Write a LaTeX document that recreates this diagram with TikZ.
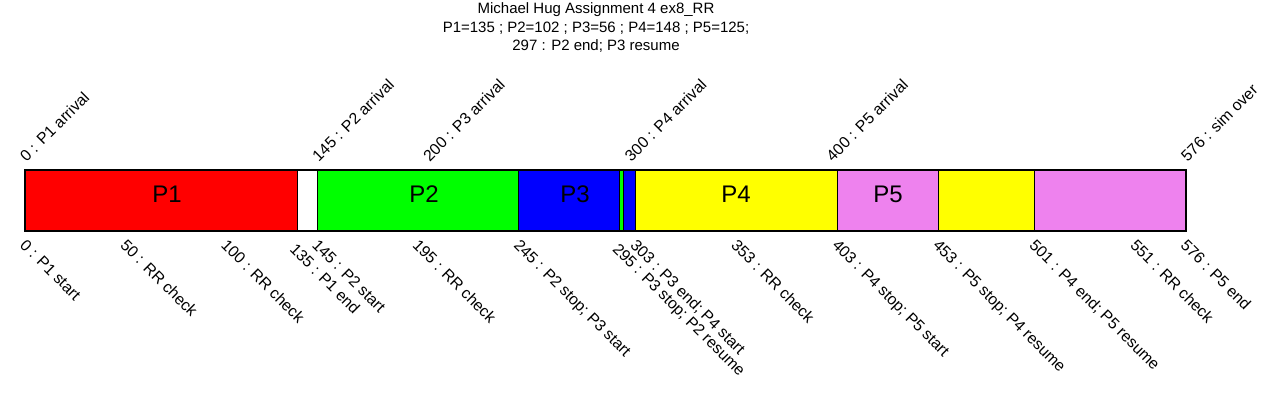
\documentclass[tikz,border=0pt]{standalone}
\usepackage{fontspec}
\setmainfont{Liberation Sans}
\definecolor{pviolet}{RGB}{238,130,238}
\definecolor{pred}{RGB}{255,0,0}
\definecolor{pgreen}{RGB}{0,255,0}
\definecolor{pblue}{RGB}{0,0,255}
\definecolor{pyellow}{RGB}{255,255,0}
\newcommand\tx[1]{(25+2.015625*#1)}
\begin{document}
\begin{tikzpicture}[x=1pt,y=-1pt,
  seg/.style={draw=black,line width=1pt},
  titletext/.style={font=\fontsize{15}{18}\selectfont,inner sep=0pt,align=center},
  toplabel/.style={font=\fontsize{15.8}{18}\selectfont,inner sep=0pt,rotate=45,anchor=base west},
  botlabel/.style={font=\fontsize{15.8}{18}\selectfont,inner sep=0pt,rotate=-45,anchor=north west},
  proclabel/.style={font=\fontsize{24}{28}\selectfont,inner sep=0pt}]
\useasboundingbox (0,0) rectangle (1280,420);
% title
\node[titletext] (t1) at (596,9.5) {Michael Hug Assignment 4 ex8\_RR};
\node[titletext] (t2) at (596,28) {P1=135 ; P2=102 ; P3=56 ; P4=148 ; P5=125;};
\node[titletext] (t3) at (596,46) {297 : P2 end; P3 resume};
% segments
\path[seg,fill=pred]    ({\tx{0}},170)   rectangle ({\tx{135}},231);
\path[seg,fill=white]   ({\tx{135}},170) rectangle ({\tx{145}},231);
\path[seg,fill=pgreen]  ({\tx{145}},170) rectangle ({\tx{245}},231);
\path[seg,fill=pblue]   ({\tx{245}},170) rectangle ({\tx{295}},231);
\path[seg,fill=pgreen]  ({\tx{295}},170) rectangle ({\tx{297}},231);
\path[seg,fill=pblue]   ({\tx{297}},170) rectangle ({\tx{303}},231);
\path[seg,fill=pyellow] ({\tx{303}},170) rectangle ({\tx{403}},231);
\path[seg,fill=pviolet] ({\tx{403}},170) rectangle ({\tx{453}},231);
\path[seg,fill=pyellow] ({\tx{453}},170) rectangle ({\tx{501}},231);
\path[seg,fill=pviolet] ({\tx{501}},170) rectangle ({\tx{576}},231);
\draw[line width=2pt] ({\tx{0}},170) rectangle ({\tx{576}},231);
% process labels
\node[proclabel] (p1) at (167,194.5) {P1};
\node[proclabel] (p2) at (424,194.5) {P2};
\node[proclabel] (p3) at (575,194.5) {P3};
\node[proclabel] (p4) at (736,194.5) {P4};
\node[proclabel] (p5) at (888,194.5) {P5};
% top labels
\node[toplabel] (a0)   at ({\tx{0}+1.5},162.5)   {0 : P1 arrival};
\node[toplabel] (a145) at ({\tx{145}+1.5},162.5) {145 : P2 arrival};
\node[toplabel] (a200) at ({\tx{200}+1.5},162.5) {200 : P3 arrival};
\node[toplabel] (a300) at ({\tx{300}+1.5},162.5) {300 : P4 arrival};
\node[toplabel] (a400) at ({\tx{400}+1.5},162.5) {400 : P5 arrival};
\node[toplabel] (a576) at ({\tx{576}+1.5},162.5) {576 : sim over};
% bottom labels
\node[botlabel] (b0)   at ({\tx{0}+2},238)   {0 : P1 start};
\node[botlabel] (b50)  at ({\tx{50}+2},238)  {50 : RR check};
\node[botlabel] (b100) at ({\tx{100}+2},238) {100 : RR check};
\node[botlabel] (b135) at ({\tx{135}},242) {135 : P1 end};
\node[botlabel] (b145) at ({\tx{145}+2},238) {145 : P2 start};
\node[botlabel] (b195) at ({\tx{195}+2},238) {195 : RR check};
\node[botlabel] (b245) at ({\tx{245}+2},238) {245 : P2 stop; P3 start};
\node[botlabel] (b295) at ({\tx{295}},242) {295 : P3 stop; P2 resume};
\node[botlabel] (b303) at ({\tx{303}+2},238) {303 : P3 end; P4 start};
\node[botlabel] (b353) at ({\tx{353}+2},238) {353 : RR check};
\node[botlabel] (b403) at ({\tx{403}+2},238) {403 : P4 stop; P5 start};
\node[botlabel] (b453) at ({\tx{453}+2},238) {453 : P5 stop; P4 resume};
\node[botlabel] (b501) at ({\tx{501}+2},238) {501 : P4 end; P5 resume};
\node[botlabel] (b551) at ({\tx{551}+2},238) {551 : RR check};
\node[botlabel] (b576) at ({\tx{576}+2},238) {576 : P5 end};
\end{tikzpicture}
\end{document}
